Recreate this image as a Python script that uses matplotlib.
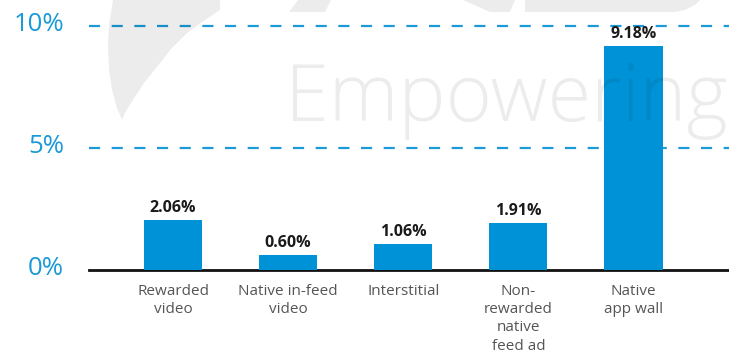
import matplotlib
matplotlib.use("Agg")
import matplotlib.pyplot as plt
from matplotlib.patches import Polygon
import matplotlib.transforms as mtransforms
import numpy as np

plt.rcParams['font.family'] = ['Open Sans', 'DejaVu Sans']

categories = ["Rewarded\nvideo", "Native in-feed\nvideo", "Interstitial",
              "Non-\nrewarded\nnative\nfeed ad", "Native\napp wall"]
values = [2.06, 0.60, 1.06, 1.91, 9.18]
value_labels = ["2.06%", "0.60%", "1.06%", "1.91%", "9.18%"]
yticks = [0, 5, 10]
ytick_labels = ["0%", "5%", "10%"]

BAR = "#0092d6"
TICK = "#1b9ad7"
WM_ALPHA = 0.075

fig = plt.figure(figsize=(7.29, 3.54), dpi=100)
W, H = 729, 354

ax = fig.add_axes([89 / W, 1 - 270 / H, 1 - 89 / W, (270 - 9) / H], zorder=1)
ax.patch.set_alpha(0)
x = np.arange(len(categories))
ax.bar(x, values, width=0.505, color=BAR, zorder=3)
for xi, v, lab in zip(x, values, value_labels):
    ax.annotate(lab, (xi, v), xytext=(0, 3), textcoords="offset points",
                ha="center", va="bottom", fontsize=11.5, fontweight="bold", color="#1a1a1a")

for yv in yticks[1:]:
    ax.axhline(yv, color=TICK, lw=1.6, linestyle=(0, (5, 5.2)), zorder=2)

ax.set_xlim(-0.73, 4.83)
ax.set_ylim(0, 10.7)
ax.set_yticks(yticks)
ax.set_yticklabels(ytick_labels, fontsize=18.5, color=TICK)
ax.set_xticks(x)
ax.set_xticklabels(categories, fontsize=11, color="#555555", linespacing=1.3, va="top")
ax.tick_params(axis="both", length=0)
ax.tick_params(axis="y", pad=18)
ax.tick_params(axis="x", pad=10)
lift = mtransforms.ScaledTranslation(0, 3 / 72, fig.dpi_scale_trans)
for lbl in ax.get_yticklabels():
    lbl.set_transform(lbl.get_transform() + lift)
for s in ["top", "right", "left"]:
    ax.spines[s].set_visible(False)
ax.spines["bottom"].set_linewidth(2)
ax.spines["bottom"].set_color("#111111")

# faint brand watermark laid over the chart
wm = fig.add_axes([0, 0, 1, 1], zorder=5)
wm.set_xlim(0, W)
wm.set_ylim(H, 0)
wm.axis("off")
wm.patch.set_alpha(0)
swoosh = [(113, 0), (220, 0), (220, 10), (205, 20), (187, 33), (171, 49), (157, 67),
          (144, 83), (133, 100), (126, 111), (122, 120), (117, 108), (112, 90),
          (109, 70), (108, 45), (109, 25)]
wm.add_patch(Polygon(swoosh, closed=True, color="black", alpha=WM_ALPHA, lw=0))
wm.add_patch(Polygon([(298, 0), (331, 0), (325, 12), (289, 12)], closed=True,
                     color="black", alpha=WM_ALPHA, lw=0))
wm.add_patch(Polygon([(463, 0), (515, 0), (510, 12), (490, 12)], closed=True,
                     color="black", alpha=WM_ALPHA, lw=0))
wm.add_patch(Polygon([(525, 0), (700, 0), (695, 5), (685, 10), (675, 12), (525, 12)],
                     closed=True, color="black", alpha=WM_ALPHA, lw=0))
wm.text(285, 121, "Empowering", fontsize=57, color="black", alpha=WM_ALPHA,
        ha="left", va="baseline", fontweight="light")

fig.savefig("out.png", dpi=100)
